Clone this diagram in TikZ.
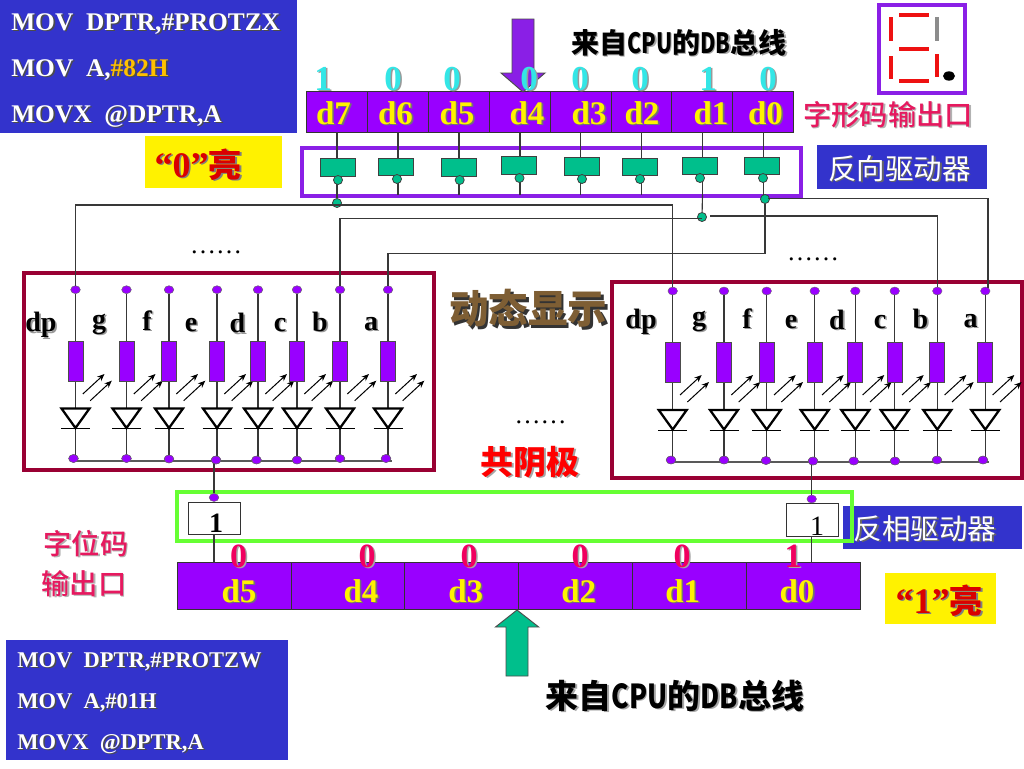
\documentclass[tikz,border=0pt]{standalone}
\usepackage{fontspec}
\usepackage{graphicx}
\usetikzlibrary{shapes.geometric,arrows.meta}
\setmainfont{Liberation Serif}
\newfontfamily\cjk{Noto Sans CJK SC}
\newfontfamily\cjkm{Noto Sans CJK SC Medium}
\newcommand\fpx[1]{\fontsize{\the\dimexpr #1pt*3/4\relax}{\the\dimexpr #1pt*9/10\relax}\selectfont}
\definecolor{blueb}{HTML}{3333CC}
\definecolor{purp}{HTML}{9900FF}
\definecolor{frame}{HTML}{8A1FE6}
\definecolor{gate}{HTML}{00BF8C}
\definecolor{maroon}{HTML}{990033}
\definecolor{pink}{HTML}{E6195F}
\definecolor{cyanb}{HTML}{33E6E6}
\definecolor{magb}{HTML}{F0005F}
\definecolor{wire}{HTML}{383838}
\definecolor{lime}{HTML}{66FF33}
\definecolor{segred}{HTML}{EE1111}
\definecolor{brownw}{HTML}{7E5E34}
\definecolor{orangeb}{HTML}{FFC000}
\def\hlc{orangeb}
\newcommand\narrow[2]{\scalebox{#1}[1]{#2}}
% name, x1, y1, x2, y2, style
\newcommand\pxbox[6]{\node[rectangle,inner sep=0pt,outer sep=0pt,minimum width={((#4)-(#2))*0.75},minimum height={((#5)-(#3))*0.75},#6] (#1) at ({((#2)+(#4))/2},{((#3)+(#5))/2}) {};}
% name, x, y, style, shadow colour, text (with a soft shadow)
\newcommand\stx[6]{\node[inner sep=0pt,anchor=base,#4,text=#5,execute at begin node={\def\hlc{#5}}] at (#2+1.6,#3+1.6) {#6};\node[inner sep=0pt,anchor=base,#4] (#1) at (#2,#3) {#6};}
\tikzset{
  x=0.75pt,y=-0.75pt,
  wireline/.style={draw=wire,line width=0.85pt},
  cell/.style={draw=black!80,fill=purp,line width=0.7pt},
  reglabel/.style={font=\fpx{33}\bfseries,text=yellow},
  bitup/.style={font=\fpx{35}\bfseries,text=cyanb},
  bitlow/.style={font=\fpx{34}\bfseries,text=magb},
  code/.style={anchor=base west,text=white},
  gatebox/.style={draw=black!75,fill=gate,line width=0.7pt},
  bubble/.style={circle,draw=black!75,fill=gate,line width=0.6pt,inner sep=0pt,minimum size=6.8pt},
  vdot/.style={ellipse,draw=black!60,fill=purp,line width=0.3pt,inner sep=0pt,minimum width=7.2pt,minimum height=6pt},
  rbox/.style={draw=black!70,fill=purp,line width=0.6pt,inner sep=0pt,outer sep=0pt,minimum width=11.2pt,minimum height=30pt},
  seg/.style={fill=segred,draw=none},
  glow/.style={line width=0.75pt,draw=black,-{Stealth[length=5.5pt,width=4.5pt]}},
  seglab/.style={font=\fpx{28}\bfseries,text=black},
  pinkcjk/.style={font=\cjkm\fpx{28.3},text=pink},
  notgate/.style={draw=black!80,fill=white,line width=0.7pt},
  litlab/.style={font=\fpx{36}\bfseries,text=red!85!black},
}
\begin{document}
\begin{tikzpicture}
\useasboundingbox (0,0) rectangle (1024,768);
\fill[white] (0,0) rectangle (1024,768);

%% code boxes
\pxbox{codeT}{0}{0}{297}{133}{fill=blueb}
\stx{c1}{11}{30}{code,font=\fpx{25.4}\bfseries}{black!70}{MOV~~DPTR,\#PROTZX}
\stx{c2}{11}{76}{code,font=\fpx{25.4}\bfseries}{black!70}{MOV~~A,\textcolor{\hlc}{\#82H}}
\stx{c3}{11}{122}{code,font=\fpx{25.4}\bfseries}{black!70}{MOVX~~@DPTR,A}
\pxbox{codeB}{6}{640}{288}{760}{fill=blueb}
\stx{c4}{17}{667}{code,font=\fpx{22.5}\bfseries}{black!70}{MOV~~DPTR,\#PROTZW}
\stx{c5}{17}{708}{code,font=\fpx{22.5}\bfseries}{black!70}{MOV~~A,\#01H}
\stx{c6}{17}{749}{code,font=\fpx{22.5}\bfseries}{black!70}{MOVX~~@DPTR,A}

%% lit boxes
\pxbox{zeroBox}{145}{136}{282}{188}{fill=yellow}
\stx{zeroTxt}{198}{177}{litlab}{black!50}{“0”{\cjk\fpx{33}亮}}
\pxbox{oneBox}{885}{573}{996}{624}{fill=yellow}
\stx{oneTxt}{939}{613}{litlab}{black!50}{“1”{\cjk\fpx{33}亮}}

%% top register
\foreach \n/\a/\b in {7/306/367,6/367/428,5/428/489,4/489/550,3/550/611,2/611/671,1/671/732,0/732/793}{
  \pxbox{R\n}{\a}{91}{\b}{132}{cell}
}
\foreach \n/\xx in {7/333.5,6/395.5,5/457,4/527,3/589,2/642,1/711,0/765.5}{
  \stx{Rl\n}{\xx}{124}{reglabel}{black!55}{d\n}
}

%% CPU arrow (top)
\draw[draw=black!70,fill=frame,line width=0.7pt] (512,19) -- (534,19) -- (534,73) -- (545,73) -- (523,92) -- (501,73) -- (512,73) -- cycle;

%% bits above the top register
\foreach \n/\xx/\v in {a/323/1,b/393/0,c/452/0,d/529/0,e/580/0,f/640/0,g/708/1,h/768/0}{
  \stx{Bu\n}{\xx}{90}{bitup}{black!40}{\v}
}

\stx{dbT}{679}{53}{font=\cjk\fpx{28}\bfseries,text=black}{black!35}{来自\narrow{.76}{CPU}的\narrow{.76}{DB}总线}
\stx{ziXing}{888}{125}{pinkcjk}{black!30}{字形码输出口}

%% seven segment
\pxbox{sevenBox}{879}{5}{965}{93}{draw=frame,line width=2.4pt,fill=white}
\fill[seg] (899,12.5) rectangle (929,16.5);
\fill[seg] (899,47) rectangle (929,51);
\fill[seg] (899,79) rectangle (929,83);
\fill[seg] (889,17) rectangle (893,41);
\fill[seg] (889,56) rectangle (893,79);
\fill[seg] (935,54) rectangle (939,77);
\fill[black!45] (935,17) rectangle (939,41);
\node[ellipse,fill=black,inner sep=0pt,minimum width=9pt,minimum height=7pt] (dpSeg) at (949,76) {};

%% frames
\pxbox{ledL}{24}{273}{434}{470}{draw=maroon,line width=2.6pt}
\pxbox{ledR}{612}{282}{1022}{478}{draw=maroon,line width=2.6pt}

%% left LEDs
\foreach \n/\xx/\xb/\yb in {1/75.5/73.5/458.5,2/126.5/126.5/458.5,3/169/169/459,4/217/216/460,5/258/256.5/460,6/297/297/460,7/340/340/458.5,8/388/386/458.5}{
  \node[vdot] (Lt\n) at (\xx,289.7) {};
  \node[vdot] (Lb\n) at (\xb,\yb) {};
  \coordinate (Ls\n) at (\xx,458);
  \draw[wireline] (Lt\n) -- (Ls\n);
  \node[rbox] (Lr\n) at (\xx,361) {};
  \draw[draw=black,fill=white,line width=1.7pt] (\xx-14,408.5) -- (\xx+14,408.5) -- (\xx,428) -- cycle;
  \draw[draw=black,line width=0.7pt] (\xx-14.5,428.5) -- (\xx+14.5,428.5);
  \draw[glow] (\xx+7.3,394) -- (\xx+29,374);
  \draw[glow] (\xx+14.7,400.7) -- (\xx+36.3,380.7);
}
\coordinate (busLs) at (73,461);
\coordinate (busLe) at (392,461);
\draw[wireline,draw=black!65,line width=1pt] (busLs) -- (busLe);
\foreach \n in {1,...,8}{\node[vdot] at (Lb\n) {};}

%% right LEDs
\foreach \n/\xx/\xb/\yb in {1/672.7/671/460,2/724/724/460,3/766.7/766/460.5,4/814.7/813/461,5/855.3/853.7/461,6/894.7/895/461,7/937.3/937/460,8/985.3/983/460}{
  \node[vdot] (Rt\n) at (\xx,291) {};
  \node[vdot] (Rb\n) at (\xb,\yb) {};
  \coordinate (Rs\n) at (\xx,460);
  \draw[wireline] (Rt\n) -- (Rs\n);
  \node[rbox] (Rr\n) at (\xx,362.5) {};
  \draw[draw=black,fill=white,line width=1.7pt] (\xx-14,410) -- (\xx+14,410) -- (\xx,429.5) -- cycle;
  \draw[draw=black,line width=0.7pt] (\xx-14.5,430) -- (\xx+14.5,430);
  \draw[glow] (\xx+7.3,395) -- (\xx+29,375);
  \draw[glow] (\xx+14.7,402) -- (\xx+36.3,382);
}
\coordinate (busRs) at (671,462);
\coordinate (busRe) at (989,462);
\draw[wireline,draw=black!65,line width=1pt] (busRs) -- (busRe);
\foreach \n in {1,...,8}{\node[vdot] at (Rb\n) {};}

%% segment letters
\foreach \n/\xx/\yy/\t in {1/41/331.5/dp,2/99/328/g,3/147/330/f,4/191/331/e,5/237.5/332.5/d,6/280/331/c,7/320/331/b,8/371/330/a}{
  \stx{Ll\n}{\xx}{\yy}{seglab}{black!40}{\t}
}
\foreach \n/\xx/\yy/\t in {1/641/328/dp,2/699/325/g,3/747/328/f,4/791/328/e,5/837/329/d,6/880/328/c,7/920.5/328/b,8/970.5/327/a}{
  \stx{Sl\n}{\xx}{\yy}{seglab}{black!40}{\t}
}

%% inverter gates
\pxbox{drvFrame}{302}{148}{801}{196}{draw=frame,line width=2.5pt}
\foreach \n/\xx/\xl/\yt/\yb/\xbub in {7/337/337.5/158/176/338,6/398/395.5/158/175/397,5/459/458.5/158/176/459.7,4/520/518.5/156/174/519.5,3/580.5/581.5/157/175/582,2/641.5/639.5/158/175/640,1/702.5/699.5/157/174/700,0/763.5/762/157/174/763}{
  \coordinate (Dn\n) at (\xx,195);
  \draw[wireline] (R\n.south -| Dn\n) -- (Dn\n);
  \pxbox{G\n}{\xl-17.5}{\yt}{\xl+17.5}{\yb}{gatebox}
  \node[bubble] (Gb\n) at (\xbub,\yb+4) {};
}

%% junctions and bus wiring
\node[bubble] (J7) at (337,203) {};
\node[bubble] (J1) at (702,217) {};
\node[bubble] (J0) at (765,199) {};
\draw[wireline] (Dn7) -- (J7);
\draw[wireline] (Dn1) -- (J1);
\draw[wireline] (Dn0) -- (J0);
\coordinate (aL) at (76,205);
\coordinate (aR) at (672.7,205);
\draw[wireline] (Lt1) -- (Lt1 |- aL) -- (aR) -- (Rt1);
\coordinate (bL) at (341,218.5);
\draw[wireline] (Lt7) -- (Lt7 |- bL) -- (J1 |- bL);
\coordinate (bR) at (710,216);
\draw[wireline] (bR) -- (Rt7 |- bR) -- (Rt7);
\coordinate (cM) at (764,253.5);
\draw[wireline] (J0) -- (J0 |- cM) -- (Lt8 |- cM) -- (Lt8);
\coordinate (cR) at (768,198.5);
\coordinate (cV) at (988,198.5);
\coordinate (cE) at (988,288);
\draw[wireline] (cR) -- (cV) -- (cE);

%% dots and titles
\node[anchor=base,inner sep=0pt,font=\fpx{26}] (dotsA) at (216,253) {……};
\node[anchor=base,inner sep=0pt,font=\fpx{26}] (dotsB) at (813,260) {……};
\node[anchor=base,inner sep=0pt,font=\fpx{26}] (dotsC) at (540.5,423) {……};

\node[font=\cjk\fpx{39.5}\bfseries,text=black!80,inner sep=0pt] at (530.5,311) {动态显示};
\node[font=\cjk\fpx{39.5}\bfseries,text=brownw,inner sep=0pt] (dongtai) at (528,308.5) {动态显示};
\stx{gongyin}{530}{474}{font=\cjk\fpx{33}\bfseries,text=red}{black!35}{共阴极}

%% driver label and green frame
\pxbox{fanxiangBox}{817}{145}{987}{189}{fill=blueb}
\stx{fanxiang}{899.5}{179}{font=\cjk\fpx{28.5},text=white}{black!60}{反向驱动器}
\pxbox{xiangBox}{843}{506}{1022}{549}{fill=blueb}
\stx{xiangTxt}{925}{539}{font=\cjk\fpx{28.5},text=white}{black!60}{反相驱动器}
\pxbox{greenFrame}{177}{492}{852}{541}{draw=lime,line width=2.6pt}

%% lower digit drivers
\pxbox{notL}{188}{502}{240}{534}{notgate}
\pxbox{notR}{786}{503}{838}{536}{notgate}
\node[vdot] (topL) at (214,497.5) {};
\node[vdot] (topR) at (811.7,499) {};
\coordinate (tapL) at (214,461);
\coordinate (tapR) at (811.7,462);
\draw[wireline] (tapL) -- (topL);
\draw[wireline] (tapR) -- (topR);
\node[vdot] at (Lb4) {};
\node[vdot] at (Rb4) {};
\node[anchor=base,inner sep=0pt,font=\fpx{28}\bfseries] (oneL) at (216,532) {1};
\node[anchor=base,inner sep=0pt,font=\fpx{28}] (oneR) at (817,535) {1};

%% lower register
\foreach \n/\a/\b in {5/177/291,4/291/404.7,3/404.7/518.7,2/518.7/632,1/632/746,0/746/860}{
  \pxbox{Q\n}{\a}{562.5}{\b}{609}{cell}
}
\draw[wireline] (notL.south -| topL) -- (topL |- Q5.north);
\draw[wireline] (notR.south -| topR) -- (topR |- Q0.north);
\foreach \n/\xx in {5/239,4/361,3/465.7,2/578.7,1/682.7,0/797}{
  \stx{Ql\n}{\xx}{602}{reglabel}{black!55}{d\n}
}
\foreach \n/\xx/\v in {a/238.5/0,b/367/0,c/469/0,d/580/0,e/682/0,f/793/1}{
  \stx{Bl\n}{\xx}{567}{bitlow}{black!35}{\v}
}

%% CPU arrow (bottom)
\draw[draw=black!70,fill=gate,line width=0.7pt] (517,610) -- (538.7,627) -- (528,627) -- (528,676) -- (506,676) -- (506,627) -- (495.5,627) -- cycle;
\stx{dbB}{675}{708}{font=\cjk\fpx{33}\bfseries,text=black}{black!35}{来自\narrow{.8}{CPU}的\narrow{.8}{DB}总线}

\stx{ziWei1}{86}{554}{pinkcjk}{black!30}{字位码}
\stx{ziWei2}{84}{594}{pinkcjk}{black!30}{输出口}
\end{tikzpicture}
\end{document}
